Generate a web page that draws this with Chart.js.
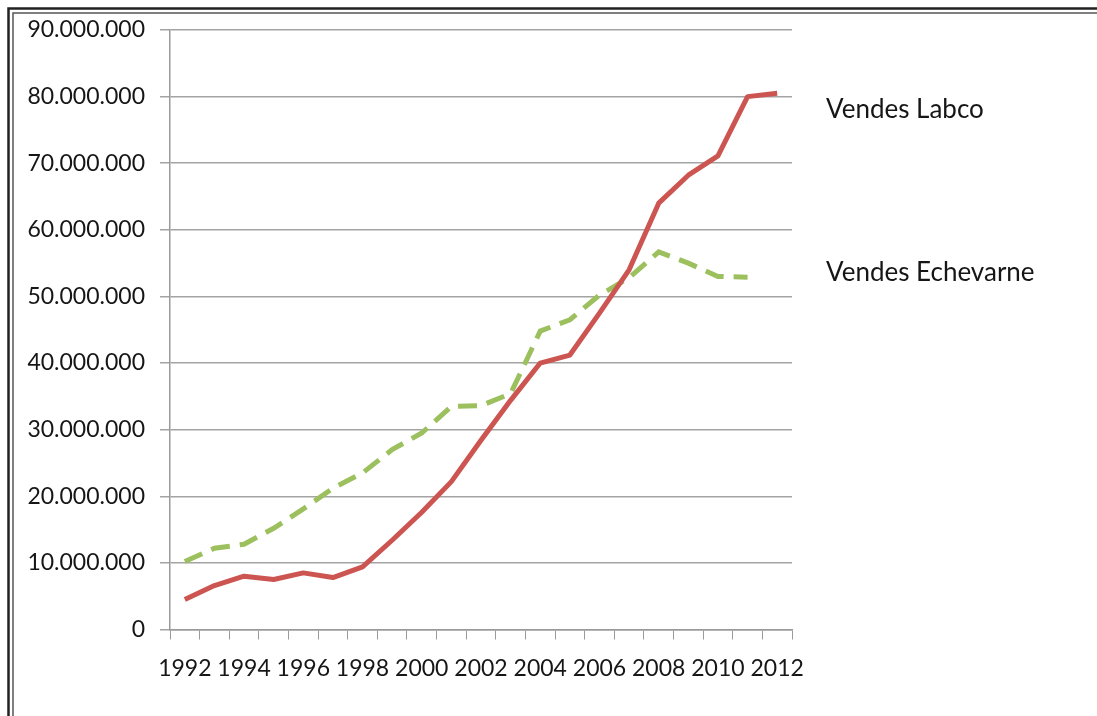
<!DOCTYPE html>
<html>
<head>
<meta charset="utf-8">
<script src="https://cdn.jsdelivr.net/npm/chart.js@4"></script>
<style>
  body { margin: 0; background: #fff; }
  canvas { display: block; }
</style>
</head>
<body>
<canvas id="myChart" width="1097" height="716"></canvas>
<script>
// years and sales
let years = ['1992','1993','1994','1995','1996','1997','1998','1999','2000','2001','2002',
             '2003','2004','2005','2006','2007','2008','2009','2010','2011','2012'];
let labco = [4500000, 6600000, 8000000, 7500000, 8500000, 7800000, 9400000, 13400000, 17600000, 22200000, 28400000,
             34400000, 40000000, 41200000, 47500000, 54000000, 64000000, 68200000, 71100000, 80000000, 80500000];
let echevarne = [10200000, 12200000, 12800000, 15200000, 18100000, 21200000, 23500000, 27000000, 29500000, 33500000, 33600000,
                 35400000, 44800000, 46500000, 50200000, 52800000, 56700000, 55000000, 53000000, 52900000, null];
let seriesNames = ['Vendes Labco', 'Vendes Echevarne'];

const fontFam = 'Lato, "Open Sans", sans-serif';

function punts(v) {
  return String(v).replace(/\B(?=(\d{3})+(?!\d))/g, '.');
}

// names written at the right of the plot, plus the double frame
const sideText = {
  id: 'sideText',
  afterDraw(chart) {
    const ctx = chart.ctx;
    ctx.save();
    ctx.fillStyle = '#161616';
    ctx.font = '26px ' + fontFam;
    ctx.textBaseline = 'middle';
    ctx.fillText(seriesNames[0], 826, 110);
    ctx.fillText(seriesNames[1], 826, 273);

    ctx.strokeStyle = '#222';
    ctx.lineWidth = 2.5;
    ctx.beginPath();
    ctx.moveTo(8.5, 716);
    ctx.lineTo(8.5, 8.5);
    ctx.lineTo(1097, 8.5);
    ctx.stroke();
    ctx.lineWidth = 1.5;
    ctx.strokeStyle = '#555';
    ctx.beginPath();
    ctx.moveTo(13, 716);
    ctx.lineTo(13, 13);
    ctx.lineTo(1097, 13);
    ctx.stroke();
    ctx.restore();
  }
};

new Chart(document.getElementById('myChart'), {
  type: 'line',
  data: {
    labels: years,
    datasets: [
      {
        label: seriesNames[0],
        data: labco,
        borderColor: '#cd5551',
        borderWidth: 5,
        pointRadius: 0,
        tension: 0,
        borderJoinStyle: 'round'
      },
      {
        label: seriesNames[1],
        data: echevarne,
        borderColor: '#9dc05e',
        borderWidth: 5,
        borderDash: [19, 10],
        pointRadius: 0,
        tension: 0,
        spanGaps: false
      }
    ]
  },
  options: {
    responsive: false,
    animation: false,
    layout: { padding: { left: 0, top: 30, right: 305, bottom: 0 } },
    plugins: {
      legend: { display: false },
      tooltip: { enabled: false }
    },
    scales: {
      x: {
        type: 'category',
        offset: true,
        grid: {
          offset: true,
          drawOnChartArea: false,
          drawTicks: true,
          tickLength: 10,
          color: '#9a9a9a'
        },
        border: { color: '#9a9a9a', width: 1.5 },
        ticks: {
          autoSkip: false,
          maxRotation: 0,
          padding: 15,
          color: '#161616',
          font: { family: fontFam, size: 23 },
          callback: function(val, i) {
            return i % 2 === 0 ? years[i] : '';
          }
        },
        afterFit(scale) { scale.height = 86.5; }
      },
      y: {
        min: 0,
        max: 90000000,
        grid: {
          color: '#a3a3a3',
          lineWidth: 1.5,
          tickLength: 10
        },
        border: { color: '#9a9a9a', width: 1.5 },
        ticks: {
          stepSize: 10000000,
          padding: 15,
          color: '#161616',
          font: { family: fontFam, size: 23 },
          callback: function(v) { return punts(v); }
        },
        afterFit(scale) { scale.width = 170; }
      }
    }
  },
  plugins: [sideText]
});
</script>
</body>
</html>
